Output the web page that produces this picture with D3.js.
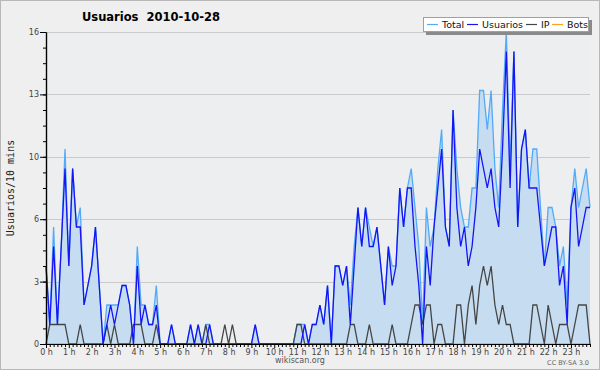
<!DOCTYPE html>
<html>
<head>
<meta charset="utf-8">
<script src="https://cdn.jsdelivr.net/npm/d3@7"></script>
<style>
  html, body { margin: 0; padding: 0; background: #efefef; }
  svg { display: block; }
  text { font-family: "DejaVu Sans", sans-serif; }
</style>
</head>
<body>
<svg id="chart" width="600" height="370"></svg>
<script>
// users per 10 minutes, 0:00 .. 23:50 (144 slots)
const total = [
  4,1,6,1,5,10,4,9,6,7,2,3,4,6,3,0,2,2,2,2,3,3,2,0,
  5,2,2,1,1,3,0,0,0,1,0,0,0,0,1,0,1,0,1,1,0,0,0,0,
  0,0,0,0,0,0,0,1,0,0,0,0,0,0,0,0,0,0,1,1,1,0,1,1,
  2,1,3,0,4,4,3,4,2,5,7,5,7,6,5,6,4,2,5,4,4,8,6,8,
  9,7,5,1,7,5,6,9,11,6,5,12,9,7,6,6,8,8,13,13,11,13,9,7,
  12,16,9,15,6,10,11,8,10,10,7,4,7,7,6,4,5,2,7,9,7,8,9,7
];
const usuarios = [
  4,1,5,1,5,9,4,9,6,6,2,3,4,6,3,0,1,2,1,2,3,3,2,0,
  4,1,2,1,1,2,0,0,0,1,0,0,0,0,1,0,1,0,0,1,0,0,0,0,
  0,0,0,0,0,0,0,1,0,0,0,0,0,0,0,0,0,0,0,0,1,0,1,1,
  2,1,3,0,4,4,3,4,1,4,7,5,7,5,5,6,4,2,5,3,4,8,6,8,
  8,5,3,0,5,3,6,8,10,6,5,12,7,5,6,4,5,7,10,9,8,9,7,6,
  10,15,8,15,6,10,11,8,8,8,6,4,5,6,6,3,4,1,7,8,5,6,7,7
];
const ip = [
  0,1,1,1,1,1,0,0,0,1,0,0,0,0,0,0,1,0,1,0,0,0,0,1,
  1,1,0,0,0,1,0,0,0,0,0,0,0,0,0,0,0,0,1,0,0,0,0,1,
  0,1,0,0,0,0,0,0,0,0,0,0,0,0,0,0,0,0,1,1,0,0,0,0,
  0,0,0,0,0,0,0,0,1,1,0,0,0,1,0,0,0,0,0,1,0,0,0,0,
  1,2,2,1,2,2,0,1,1,0,0,0,2,2,0,2,3,1,3,4,3,4,2,1,
  2,1,1,0,0,0,0,0,2,2,1,0,2,1,0,1,1,1,0,1,2,2,2,0
];
const bots = new Array(144).fill(0);

const hourLabels = ["0 h","1 h","2 h","3 h","4 h","5 h","6 h","7 h","8 h","9 h","10 h","11 h",
  "12 h","13 h","14 h","15 h","16 h","17 h","18 h","19 h","20 h","21 h","22 h","23 h"];
const yTicks = [0, 3.2, 6.4, 9.6, 12.8, 16];
const yTickLabels = ["0","3","6","10","13","16"];
const legendItems = ["Total", "Usuarios", "IP", "Bots"];

(function () {

  const svg = d3.select('#chart'),
    left = 46, right = 590, top = 32, bottom = 344,
    colors = { total: '#52aaf8', usuarios: '#1414f5', ip: '#454545', bots: '#ffa020' };

  const x = d3.scaleLinear().domain([0, 143]).range([left, right]);
  const y = d3.scaleLinear().domain([0, 16]).range([bottom, top]);

  // frame + plot background
  svg.append('rect').attr('x', 0.5).attr('y', 0.5).attr('width', 599).attr('height', 369)
    .attr('fill', '#efefef').attr('stroke', '#b8b8b8');
  svg.append('rect').attr('x', left).attr('y', top).attr('width', right - left).attr('height', bottom - top)
    .attr('fill', '#eceef0');

  // grid
  svg.append('g').selectAll('line')
    .data(yTicks.slice(1))
    .enter().append('line')
    .attr('x1', left).attr('x2', right)
    .attr('y1', d => Math.round(y(d)) + 0.5).attr('y2', d => Math.round(y(d)) + 0.5)
    .attr('stroke', '#cacaca');

  // series
  const area = d3.area().x((d, i) => x(i)).y0(bottom).y1(d => y(d));
  const line = d3.line().x((d, i) => x(i)).y(d => y(d));

  svg.append('path').attr('d', area(total)).attr('fill', '#c6dcf0');

  const series = [['bots', bots], ['total', total], ['ip', ip], ['usuarios', usuarios]];
  series.forEach(s => {
    svg.append('path').attr('d', line(s[1]))
      .attr('fill', 'none').attr('stroke', colors[s[0]])
      .attr('stroke-width', 1.3).attr('stroke-linejoin', 'miter');
  });

  // axes
  const xAxis = svg.append('g').attr('transform', `translate(0,${bottom})`)
    .call(d3.axisBottom(x).tickValues(d3.range(0, 144)).tickSize(3).tickSizeOuter(0).tickPadding(2)
      .tickFormat(i => i % 6 === 0 ? hourLabels[i / 6] : ''));
  xAxis.selectAll('.tick line').filter(i => i % 6 === 0).attr('y2', 4);

  const yMinor = svg.append('g').attr('transform', `translate(${left},0)`)
    .call(d3.axisLeft(y).tickValues(d3.range(0, 16.01, 0.8)).tickSize(3).tickSizeOuter(0).tickFormat(''));
  const yAxis = svg.append('g').attr('transform', `translate(${left},0)`)
    .call(d3.axisLeft(y).tickValues(yTicks).tickSize(6).tickSizeOuter(0).tickPadding(1)
      .tickFormat((d, i) => yTickLabels[i]));

  [xAxis, yMinor, yAxis].forEach(g => {
    g.select('.domain').attr('stroke', '#000').attr('stroke-width', 1.2);
    g.selectAll('.tick line').attr('stroke', '#000');
    g.selectAll('text').attr('fill', '#444').style('font-size', '8px')
      .style('font-family', '"DejaVu Sans", sans-serif');
  });

  // titles
  svg.append('text').attr('x', 151).attr('y', 21).attr('text-anchor', 'middle')
    .style('font-size', '11.5px').style('font-weight', 'bold').style('white-space', 'pre')
    .text('Usuarios  2010-10-28');

  svg.append('text').attr('transform', 'translate(14,188) rotate(-90)').attr('text-anchor', 'middle')
    .style('font-family', '"DejaVu Sans Mono", monospace').style('font-size', '10px')
    .attr('fill', '#222').text('Usuarios/10 mins');

  svg.append('text').attr('x', 300).attr('y', 363).attr('text-anchor', 'middle')
    .style('font-size', '8px').attr('fill', '#555').text('wikiscan.org');

  svg.append('text').attr('x', 589).attr('y', 365).attr('text-anchor', 'end')
    .style('font-size', '6.5px').attr('fill', '#666').text('CC BY-SA 3.0');

  // legend
  const lg = svg.append('g');
  lg.append('rect').attr('x', 426).attr('y', 20).attr('width', 166).attr('height', 15).attr('fill', '#8a8a8a');
  lg.append('rect').attr('x', 423.5).attr('y', 17.5).attr('width', 165).attr('height', 14)
    .attr('fill', '#fff').attr('stroke', '#a0a0a0');

  const legendX = [427, 467, 526, 552],
    legendKeys = ['total', 'usuarios', 'ip', 'bots'];
  legendItems.forEach((name, i) => {
    lg.append('line').attr('x1', legendX[i]).attr('x2', legendX[i] + 11)
      .attr('y1', 24.5).attr('y2', 24.5).attr('stroke', colors[legendKeys[i]]).attr('stroke-width', 1.2);
    lg.append('text').attr('x', legendX[i] + 15).attr('y', 28)
      .style('font-size', '9.5px').attr('fill', '#111').text(name);
  });

}());
</script>
</body>
</html>
